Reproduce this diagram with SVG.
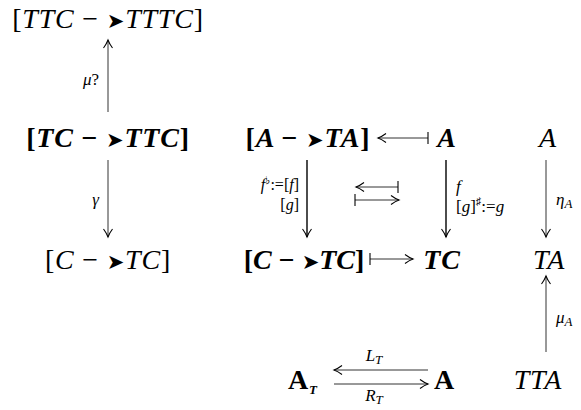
<svg xmlns="http://www.w3.org/2000/svg" width="581" height="410" viewBox="0 0 581 410">
<style>
text{font-family:"Liberation Serif","DejaVu Serif",serif;fill:#000}
.m{font-size:28px;font-style:italic;letter-spacing:0.8px}
.b{font-weight:bold}
.up{font-style:normal}
.l{font-size:17px;font-style:italic}
.l2{font-size:16px;font-style:italic}
.s{font-size:13px}
.hd{font-family:"DejaVu Sans",sans-serif;font-style:normal;font-size:21px}
.thin{stroke:#333;stroke-width:1;fill:none}
.thick{stroke:#000;stroke-width:1.4;fill:none}
</style>
<defs>
<marker id="ah" markerWidth="12" markerHeight="12" refX="9" refY="6" orient="auto" markerUnits="userSpaceOnUse">
<path d="M1 1.5 Q5 4.5 9 6 Q5 7.5 1 10.5" fill="none" stroke="#000" stroke-width="1.1"/>
</marker>
<marker id="tb" markerWidth="4" markerHeight="14" refX="2" refY="7" orient="auto" markerUnits="userSpaceOnUse">
<line x1="2" y1="1" x2="2" y2="13" stroke="#000" stroke-width="1.1"/>
</marker>
</defs>

<g id="n1"><text class="m" x="108" y="28" text-anchor="middle"><tspan class="up">[</tspan>TTC <tspan class="up">−</tspan> <tspan class="hd">➤</tspan>TTTC<tspan class="up">]</tspan></text></g>
<g id="n2"><text class="m b" x="108" y="147" text-anchor="middle"><tspan class="up">[</tspan>TC <tspan class="up">−</tspan> <tspan class="hd">➤</tspan>TTC<tspan class="up">]</tspan></text></g>
<g id="n3"><text class="m" x="108" y="269" text-anchor="middle"><tspan class="up">[</tspan>C <tspan class="up">−</tspan> <tspan class="hd">➤</tspan>TC<tspan class="up">]</tspan></text></g>
<g id="n4"><text class="m b" x="308" y="147" text-anchor="middle"><tspan class="up">[</tspan>A <tspan class="up">−</tspan> <tspan class="hd">➤</tspan>TA<tspan class="up">]</tspan></text></g>
<g id="n5"><text class="m b" x="447" y="147" text-anchor="middle">A</text></g>
<g id="n6"><text class="m" x="548" y="147" text-anchor="middle">A</text></g>
<g id="n7"><text class="m b" x="304" y="269" text-anchor="middle" style="letter-spacing:0"><tspan class="up">[</tspan>C <tspan class="up">−</tspan> <tspan class="hd">➤</tspan>TC<tspan class="up">]</tspan></text></g>
<g id="n8"><text class="m b" x="442" y="269" text-anchor="middle">TC</text></g>
<g id="n9"><text class="m" x="549" y="269" text-anchor="middle">TA</text></g>
<g id="n10"><text class="m b up" x="288" y="389">A<tspan class="s" font-style="italic" font-size="16" dy="5">T</tspan></text></g>
<g id="n11"><text class="m b up" x="434" y="389">A</text></g>
<g id="n12"><text class="m" x="538" y="389" text-anchor="middle">TTA</text></g>

<g id="connectors">
<line class="thin" x1="108" y1="112" x2="108" y2="40" marker-end="url(#ah)"/>
<line class="thin" x1="108" y1="160" x2="108" y2="237" marker-end="url(#ah)"/>
<line class="thick" x1="307" y1="160" x2="307" y2="237" marker-end="url(#ah)"/>
<line class="thick" x1="446" y1="160" x2="446" y2="237" marker-end="url(#ah)"/>
<line class="thin" x1="546" y1="160" x2="546" y2="237" marker-end="url(#ah)"/>
<line class="thin" x1="546" y1="352" x2="546" y2="276" marker-end="url(#ah)"/>
<line class="thin" x1="428" y1="138" x2="378" y2="138" marker-start="url(#tb)" marker-end="url(#ah)"/>
<line class="thin" x1="398" y1="187" x2="356" y2="187" marker-start="url(#tb)" marker-end="url(#ah)"/>
<line class="thin" x1="355" y1="200" x2="399" y2="200" marker-start="url(#tb)" marker-end="url(#ah)"/>
<line class="thin" x1="370" y1="259" x2="413" y2="259" marker-start="url(#tb)" marker-end="url(#ah)"/>
<line class="thin" x1="428" y1="370" x2="334" y2="370" marker-end="url(#ah)"/>
<line class="thin" x1="334" y1="384" x2="428" y2="384" marker-end="url(#ah)"/>
</g>

<g id="labels">
<text class="l" x="99" y="85" text-anchor="end">μ<tspan class="up">?</tspan></text>
<text class="l" x="99" y="205" text-anchor="end">γ</text>
<text class="l2" x="299" y="190" text-anchor="end">f<tspan font-size="11" dy="-6" class="up">♭</tspan><tspan dy="6" class="up">:=[</tspan>f<tspan class="up">]</tspan></text>
<text class="l2" x="299" y="210" text-anchor="end"><tspan class="up">[</tspan>g<tspan class="up">]</tspan></text>
<text class="l" x="456" y="192">f</text>
<text class="l" x="456" y="212"><tspan class="up">[</tspan>g<tspan class="up">]</tspan><tspan font-size="11" dy="-7" class="up">♯</tspan><tspan dy="7" class="up">:=</tspan>g</text>
<text class="l" x="556" y="205">η<tspan class="s" dy="3">A</tspan></text>
<text class="l" x="556" y="323">μ<tspan class="s" dy="3">A</tspan></text>
<text class="l" x="374" y="361" text-anchor="middle">L<tspan class="s" dy="3">T</tspan></text>
<text class="l" x="374" y="401" text-anchor="middle">R<tspan class="s" dy="3">T</tspan></text>
</g>
</svg>
